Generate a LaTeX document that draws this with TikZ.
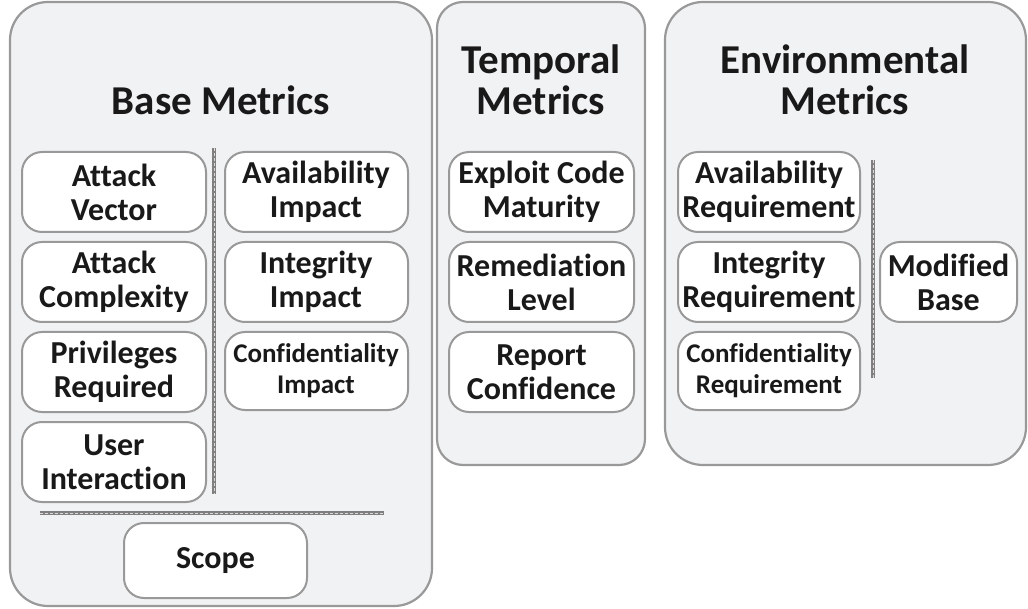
\documentclass[tikz,border=0pt]{standalone}
\usepackage{fontspec}
\setmainfont[Ligatures=NoCommon]{Carlito}
\begin{document}
\begin{tikzpicture}[x=1pt,y=-1pt,
  panel/.style={draw=black!40, line width=2.2pt, fill=panelgray, rounded corners=38pt},
  item/.style={draw=black!40, line width=2pt, fill=white, rounded corners=20pt},
  itxt/.style={font=\bfseries\fontsize{32}{34}\selectfont, align=center, text=black!90},
  stxt/.style={font=\bfseries\fontsize{27}{31}\selectfont, align=center, text=black!90},
  ttl/.style={font=\bfseries\fontsize{41}{41}\selectfont, align=center, text=black!90},
  sepout/.style={draw=black!50, line width=3.2pt},
  sepin/.style={draw=red!20!black!15, line width=0.9pt, dash pattern=on 3pt off 2pt}
]
\definecolor{panelgray}{HTML}{F1F2F4}
\useasboundingbox (0,0) rectangle (1028,609);
% panels
\draw[panel] (10,2) rectangle (432,606);
\draw[panel, rounded corners=26pt] (437,2) rectangle (645,465);
\draw[panel] (665,2) rectangle (1026,465);
% titles
\node[ttl] (tb) at (221,100) {Base Metrics};
\node[ttl] (tt) at (541,80) {Temporal\\Metrics};
\node[ttl] (te) at (845,80) {Environmental\\Metrics};
% base left
\draw[item] (22,152) rectangle (206,232); \node[itxt] (av) at (114,192) {Attack\\Vector};
\draw[item] (22,242) rectangle (206,322); \node[itxt] (ac) at (114,282) {Attack\\Complexity};
\draw[item] (22,332) rectangle (206,412); \node[itxt] (pr) at (114,372) {Privileges\\Required};
\draw[item] (22,422) rectangle (206,502); \node[itxt] (ui) at (114,462) {User\\Interaction};
% base right
\draw[item] (225,152) rectangle (408,232); \node[itxt] (ai) at (316,192) {Availability\\Impact};
\draw[item] (225,242) rectangle (408,322); \node[itxt] (ii) at (316,282) {Integrity\\Impact};
\draw[item] (225,332) rectangle (408,410); \node[stxt] (ci) at (316,371) {Confidentiality\\Impact};
% separators base
\coordinate (v1a) at (214,148); \coordinate (v1b) at (214,494);
\draw[sepout] (v1a) -- (v1b); \draw[sepin] (v1a) -- (v1b);
\coordinate (h1a) at (40,513); \coordinate (h1b) at (384,513);
\draw[sepout] (h1a) -- (h1b); \draw[sepin] (h1a) -- (h1b);
% scope
\draw[item] (124,523) rectangle (307,598); \node[itxt] (sc) at (215.5,561) {Scope};
% temporal
\draw[item] (449,152) rectangle (634,232); \node[itxt] (ecm) at (541.5,192) {Exploit Code\\Maturity};
\draw[item] (449,242) rectangle (634,322); \node[itxt] (rl) at (541.5,282) {Remediation\\Level};
\draw[item] (449,332) rectangle (634,412); \node[itxt] (rc) at (541.5,372) {Report\\Confidence};
% environmental
\draw[item] (678,152) rectangle (860,232); \node[itxt] (ar) at (769,192) {Availability\\Requirement};
\draw[item] (678,242) rectangle (860,322); \node[itxt] (ir) at (769,282) {Integrity\\Requirement};
\draw[item] (678,332) rectangle (860,410); \node[stxt] (cr) at (769,371) {Confidentiality\\Requirement};
\coordinate (v2a) at (873,160); \coordinate (v2b) at (873,378);
\draw[sepout] (v2a) -- (v2b); \draw[sepin] (v2a) -- (v2b);
\draw[item] (880,242) rectangle (1017,322); \node[itxt] (mb) at (948.5,282) {Modified\\Base};
\end{tikzpicture}
\end{document}
